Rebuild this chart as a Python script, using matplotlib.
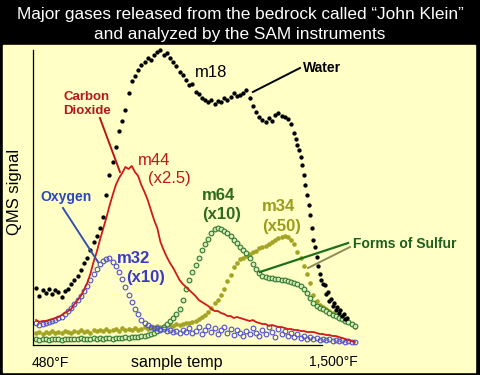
import matplotlib
matplotlib.use("Agg")
import matplotlib.pyplot as plt
from matplotlib.patches import Rectangle

plt.rcParams['font.family'] = ['Liberation Sans', 'DejaVu Sans']

# sample temperatures (deg F), one reading every 10 F
temps = list(range(490, 1500, 10))

# m44 carbon dioxide (x2.5), arbitrary QMS units
m44 = [25, 23, 24, 24, 25, 26, 27, 28, 30, 32,
       34, 36, 41, 45, 49, 55, 62, 71, 83, 93,
       105, 116, 127, 139, 150, 160, 167, 172, 178, 176,
       179, 173, 169, 160, 153, 145, 135, 125, 117, 103,
       95, 88, 82, 77, 71, 65, 61, 58, 55, 52,
       49, 45, 43, 41, 39, 36, 34, 34, 32, 31,
       29, 29, 27, 28, 27, 26, 25, 24, 25, 23,
       22, 21, 21, 19, 20, 19, 18, 18, 17, 16,
       16, 15, 15, 14, 14, 13, 13, 13, 12, 11,
       11, 10, 10, 9, 9, 8, 7, 6, 5, 4, 3]

# m32 oxygen (x10)
m32 = [22, 20, 21, 22, 23, 24, 25, 27, 28, 31,
       34, 37, 41, 45, 49, 54, 59, 65, 71, 76,
       81, 84, 86, 87, 83, 79, 73, 66, 58, 50,
       43, 36, 31, 25, 22, 20, 18, 17, 17, 15,
       16, 14, 15, 13, 14, 12, 15, 13, 17, 12,
       14, 18, 11, 15, 19, 13, 17, 11, 15, 18,
       12, 16, 10, 15, 12, 9, 14, 11, 17, 12,
       9, 15, 11, 18, 13, 8, 16, 11, 14, 9,
       12, 8, 11, 7, 9, 6, 8, 6, 7, 5,
       6, 5, 6, 4, 5, 4, 5, 3, 4, 3, 3]

# m64 sulfur dioxide (x10)
m64 = [6, 5, 6, 6, 5, 6, 6, 6, 5, 6,
       6, 6, 6, 6, 7, 6, 6, 6, 7, 6,
       7, 6, 7, 7, 6, 7, 7, 7, 8, 7,
       8, 8, 8, 9, 9, 10, 11, 12, 14, 16,
       18, 21, 24, 27, 31, 36, 45, 56, 65, 73,
       80, 87, 95, 101, 106, 112, 116, 117, 116, 114,
       112, 109, 105, 102, 98, 95, 92, 87, 81, 76,
       72, 69, 68, 67, 67, 66, 66, 65, 65, 64,
       63, 62, 61, 59, 56, 52, 47, 42, 39, 37,
       36, 34, 32, 30, 29, 27, 26, 24, 23, 21, 19]

# m34 hydrogen sulfide (x50)
m34 = [12, 13, 11, 13, 12, 14, 12, 13, 12, 14,
       13, 12, 14, 13, 15, 13, 14, 12, 15, 14,
       15, 14, 16, 14, 15, 16, 14, 17, 15, 16,
       15, 17, 15, 16, 18, 16, 18, 17, 19, 18,
       19, 20, 20, 19, 21, 20, 21, 22, 22, 23,
       24, 26, 28, 30, 33, 37, 42, 45, 50, 56,
       64, 70, 78, 82, 86, 87, 89, 91, 93, 94,
       97, 98, 99, 101, 103, 105, 107, 108, 109, 108,
       105, 101, 93, 87, 79, 71, 62, 50, 44, 40,
       38, 36, 34, 32, 30, 28, 26, 25, 23, 21, 18]

# m18 water, sampled finer on the steep fall
water_temp = list(range(490, 1301, 10)) + list(range(1305, 1466, 5))
m18 = [57, 49, 55, 52, 56, 51, 55, 53, 48, 54,
       56, 61, 65, 69, 75, 82, 87, 95, 103, 109,
       117, 128, 150, 170, 183, 198, 214, 224, 235, 252,
       264, 269, 275, 280, 283, 287, 285, 290, 293, 295,
       290, 292, 287, 283, 279, 273, 270, 265, 260, 261,
       253, 251, 247, 245, 243, 245, 241, 244, 243, 247,
       245, 248, 252, 249, 250, 252, 255, 247, 239, 233,
       228, 225, 223, 227, 224, 230, 232, 229, 228, 226,
       221, 212,
       206, 200, 195, 188, 180, 170, 160, 150, 140, 130,
       117, 105, 98, 88, 79, 71, 65, 61, 60, 51,
       53, 44, 46, 39, 42, 35, 38, 32, 35, 29,
       31, 26, 27]

BG = '#FFFFC6'
RED = '#D01A1A'
BLUE = '#4F4FD2'
GREEN = '#2E7A2A'
OLIVE = '#A3A324'

fig = plt.figure(figsize=(4.8, 3.75), dpi=100, facecolor='black')
fig.patches.append(Rectangle((3 / 480, 3 / 375), 472 / 480, 327 / 375,
                             transform=fig.transFigure, color=BG, zorder=-5))

ax = fig.add_axes([33 / 480, 30 / 375, 325 / 480, 295 / 375])
ax.set_zorder(2)
ax.set_facecolor('none')
ax.set_xlim(480, 1500)
ax.set_ylim(0, 295)
for s in ['top', 'right', 'bottom']:
    ax.spines[s].set_visible(False)
ax.spines['left'].set_linewidth(0.9)
ax.set_xticks([])
ax.set_yticks([])
ax.axhline(0, xmax=0.889, color='black', lw=0.9, clip_on=False)

ax.plot(temps, m34, 'o', ms=2.3, color=OLIVE, mec=OLIVE, clip_on=False)
ax.plot(temps, m64, 'o', ms=3.4, mfc='#DDEAC0', mec=GREEN, mew=0.8, clip_on=False)
ax.plot(temps, m32, 'o', ms=3.4, mfc='none', mec=BLUE, mew=0.8, clip_on=False)
ax.plot(temps, m44, '-', lw=1.3, color=RED, clip_on=False)
ax.plot(water_temp, m18, 'o', ms=2.1, color='black', clip_on=False)

# leader lines
ax.plot([1170, 1318], [253, 277], color='black', lw=1.4, clip_on=False)
ax.plot([690, 753], [227, 173], color='#B81818', lw=1.4, clip_on=False)
ax.plot([574, 684], [137, 83], color='#3352B0', lw=1.4, clip_on=False)
ax.plot([1192, 1469], [73, 102], color='#1E6E1E', lw=1.6, clip_on=False)
ax.plot([1343, 1475], [77, 98], color='#8C8C5A', lw=1.4, clip_on=False)

# series labels
ax.text(988, 268, 'm18', fontsize=12, color='black')
ax.text(1327, 273, 'Water', fontsize=10, fontweight='bold', color='black')
ax.text(649, 245, 'Carbon', fontsize=9.5, fontweight='bold', color='#B0191E', ha='center')
ax.text(649, 231, 'Dioxide', fontsize=9.5, fontweight='bold', color='#B0191E', ha='center')
ax.text(809, 180, 'm44', fontsize=12, color='#C0171D')
ax.text(841, 162, '(x2.5)', fontsize=12, color='#C0171D')
ax.text(502, 144, 'Oxygen', fontsize=10, fontweight='bold', color='#2848C0')
ax.text(744, 82, 'm32', fontsize=12, fontweight='bold', color='#3A3AC8')
ax.text(772, 63, '(x10)', fontsize=12, fontweight='bold', color='#3A3AC8')
ax.text(1010, 145, 'm64', fontsize=12, fontweight='bold', color='#2D6A1F')
ax.text(1010, 126, '(x10)', fontsize=12, fontweight='bold', color='#2D6A1F')
ax.text(1199, 134, 'm34', fontsize=12, fontweight='bold', color='#9B9B1F')
ax.text(1199, 114, '(x50)', fontsize=12, fontweight='bold', color='#9B9B1F')
ax.text(1484, 97, 'Forms of Sulfur', fontsize=10, fontweight='bold', color='#1E5E1E')

# title and axis texts
fig.text(0.5, 1 - 18.5 / 375, 'Major gases released from the bedrock called \u201cJohn Klein\u201d',
         color='white', fontsize=12.4, ha='center', va='baseline')
fig.text(0.5, 1 - 38.5 / 375, 'and analyzed by the SAM instruments',
         color='white', fontsize=12.4, ha='center', va='baseline')
fig.text(15 / 480, 1 - 192 / 375, 'QMS signal', rotation=90, fontsize=12,
         ha='center', va='center')
fig.text(32 / 480, 1 - 367 / 375, '480\u00b0F', fontsize=10, va='baseline')
fig.text(177 / 480, 1 - 367 / 375, 'sample temp', fontsize=11.5, ha='center', va='baseline')
fig.text(358 / 480, 1 - 366 / 375, '1,500\u00b0F', fontsize=10, ha='right', va='baseline')

fig.savefig('out.png', dpi=100, facecolor='black')
